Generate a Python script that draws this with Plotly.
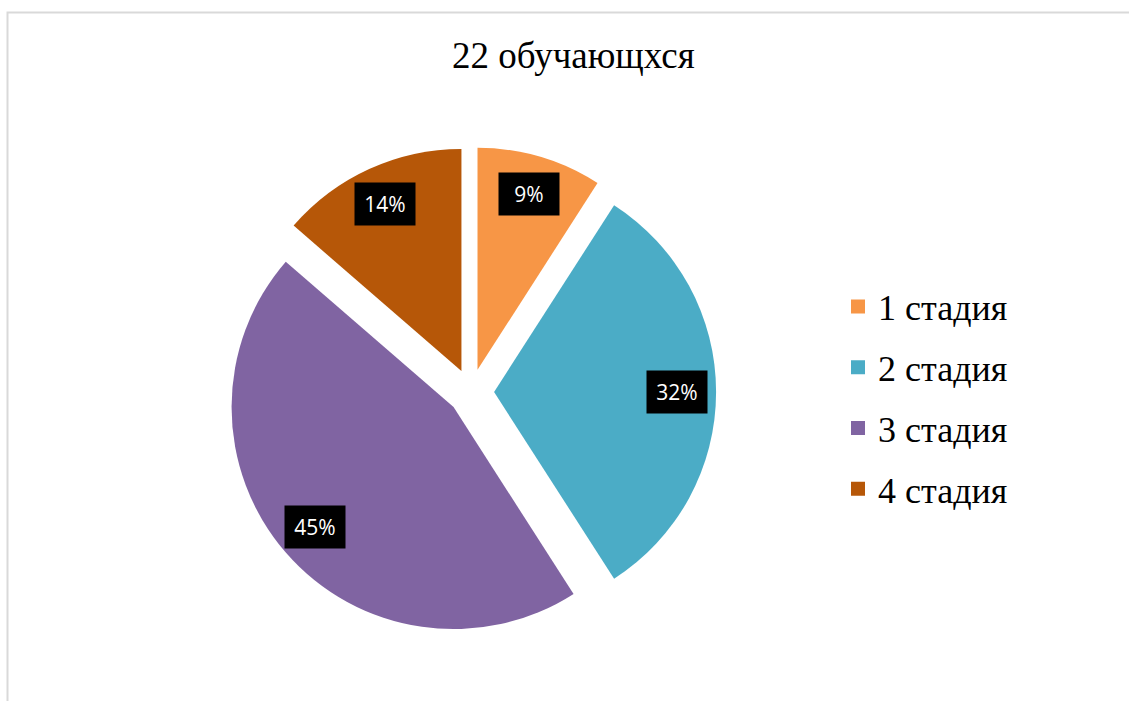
import math
import plotly.graph_objects as go

# ---- data ----
categories = ["1 стадия", "2 стадия", "3 стадия", "4 стадия"]
counts = [2, 7, 10, 3]
colors = ["#F79646", "#4BACC6", "#8064A2", "#B65708"]
title_text = "22 обучающхся"

# ---- layout constants (pixels in a 1129x701 page) ----
W, H = 1129, 701
cx, cy = 471, 392          # pie centre
R = 222                    # pie radius
pull = 0.104               # explosion fraction of radius
half = R * (1 + pull)      # plotly shrinks radius to fit pulls in the domain

dom_x = [(cx - half) / W, (cx + half) / W]
dom_y = [1 - (cy + half) / H, 1 - (cy - half) / H]

fig = go.Figure()
fig.add_trace(go.Pie(
    labels=categories,
    values=counts,
    marker=dict(colors=colors, line=dict(width=0)),
    sort=False,
    direction="clockwise",
    rotation=0,
    pull=[pull] * len(counts),
    textinfo="none",
    hoverinfo="label+percent",
    domain=dict(x=dom_x, y=dom_y),
    showlegend=False,
))

# legend entries (no data drawn; one group each so the gap can be set)
for i, (cat, col) in enumerate(zip(categories, colors)):
    fig.add_trace(go.Scatter(
        x=[None], y=[None], mode="markers", name=cat,
        marker=dict(symbol="square", size=14, color=col),
        legendgroup=f"g{i}", showlegend=True, hoverinfo="skip",
    ))

# data labels: black boxes placed along each slice bisector
total = sum(counts)
start = 0.0
annotations = []
for v in counts:
    frac = v / total
    mid = (start + frac / 2) * 2 * math.pi
    start += frac
    dx, dy = math.sin(mid), -math.cos(mid)
    pcx, pcy = cx + dx * R * pull, cy + dy * R * pull
    lx, ly = pcx + dx * R * 0.825, pcy + dy * R * 0.825
    annotations.append(dict(
        x=lx / W, y=1 - ly / H, xref="paper", yref="paper",
        text=f"{round(frac * 100)}%", showarrow=False,
        font=dict(family="Open Sans, sans-serif", size=21, color="white"),
        bgcolor="black", width=44, height=26, borderpad=8,
        xanchor="center", yanchor="middle",
    ))

annotations.append(dict(
    x=573.5 / W, y=1 - 55 / H, xref="paper", yref="paper",
    text=title_text, showarrow=False,
    font=dict(family="Liberation Serif, Times New Roman, serif", size=37, color="black"),
    xanchor="center", yanchor="middle",
))

fig.update_layout(
    width=W, height=H,
    margin=dict(l=0, r=0, t=0, b=0),
    paper_bgcolor="white",
    plot_bgcolor="white",
    xaxis=dict(visible=False),
    yaxis=dict(visible=False),
    annotations=annotations,
    legend=dict(
        x=838 / W, y=1 - 398 / H, xanchor="left", yanchor="middle",
        font=dict(family="Liberation Serif, Times New Roman, serif", size=36, color="black"),
        bgcolor="rgba(0,0,0,0)",
        tracegroupgap=11,
    ),
    shapes=[dict(
        type="rect", xref="paper", yref="paper",
        x0=7.5 / W, x1=1.05, y0=-0.05, y1=1 - 12.5 / H,
        line=dict(color="#D9D9D9", width=2), fillcolor="rgba(0,0,0,0)",
        layer="below",
    )],
)

fig.write_html(
    "out.html",
    config={"displayModeBar": False},
    post_script="document.body.style.margin='0';document.body.style.overflow='hidden';",
)
